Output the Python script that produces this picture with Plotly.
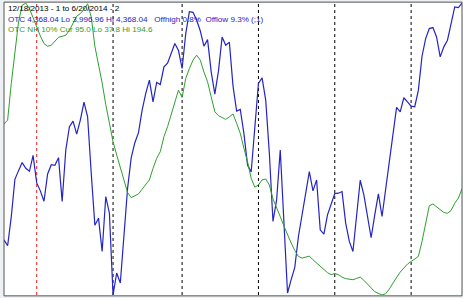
import plotly.graph_objects as go

# Trading-day index 12/18/2013 .. 6/20/2014 (127 sessions)
otc_close = [
    4067.2, 4059.5, 4096.3, 4144.0, 4155.0, 4165.2, 4158.0, 4154.2, 4174.5, 4139.4,
    4129.3, 4116.1, 4150.8, 4162.6, 4161.8, 4171.5, 4115.7, 4181.2, 4210.8, 4218.0,
    4201.5, 4219.3, 4242.1, 4223.5, 4151.6, 4085.7, 4094.6, 4052.3, 4122.1, 4100.9,
    3996.96, 4024.9, 4012.2, 4071.3, 4132.6, 4171.5, 4190.5, 4203.2, 4231.9, 4253.1,
    4270.0, 4242.5, 4267.0, 4264.5, 4286.9, 4291.5, 4304.6, 4316.5, 4307.6, 4284.8,
    4329.2, 4357.1, 4356.2, 4346.5, 4332.5, 4313.1, 4321.5, 4280.6, 4252.2, 4281.4,
    4324.9, 4314.4, 4318.2, 4262.8, 4230.7, 4232.8, 4202.4, 4162.2, 4153.3, 4215.0,
    4265.8, 4273.0, 4244.6, 4177.0, 4090.4, 4117.8, 4181.2, 4090.4, 3999.5, 4016.4,
    4032.0, 4071.3, 4098.8, 4122.1, 4153.8, 4129.3, 4143.2, 4079.8, 4074.3, 4098.8,
    4113.6, 4125.9, 4126.3, 4128.4, 4088.3, 4065.0, 4052.3, 4096.7, 4142.8, 4124.2,
    4096.7, 4069.7, 4098.8, 4125.5, 4096.7, 4130.5, 4162.2, 4198.1, 4235.3, 4229.8,
    4247.6, 4242.5, 4237.0, 4236.2, 4257.3, 4300.4, 4322.8, 4335.5, 4336.8, 4324.9,
    4299.6, 4312.3, 4320.7, 4341.8, 4363.0, 4362.1, 4368.04,
]

nh_10pct = [
    129.6, 131.7, 151.4, 169.2, 184.4, 193.4, 194.6, 191.6, 186.6, 181.7,
    176.9, 172.8, 171.4, 171.9, 174.2, 176.2, 176.7, 177.3, 180.0, 183.9,
    187.5, 188.9, 191.2, 194.2, 187.1, 171.4, 161.7, 151.7, 140.1, 129.1,
    120.1, 113.0, 105.8, 99.6, 92.8, 90.1, 91.0, 92.1, 94.6, 96.9,
    99.6, 105.8, 111.2, 114.8, 122.8, 128.2, 134.4, 140.3, 147.8, 143.9,
    154.1, 159.4, 163.9, 166.6, 163.9, 157.6, 152.3, 144.2, 136.2, 134.1,
    133.2, 132.1, 133.5, 135.0, 130.0, 124.6, 116.6, 109.4, 100.5, 95.7,
    96.9, 99.6, 100.1, 96.9, 89.4, 84.9, 79.9, 74.9, 70.1, 65.7,
    61.7, 58.5, 57.6, 58.2, 58.7, 56.7, 54.9, 53.2, 51.2, 49.8,
    48.7, 49.4, 48.7, 47.4, 46.6, 46.2, 46.0, 46.7, 47.4, 45.7,
    43.9, 41.6, 39.6, 38.9, 37.8, 38.5, 41.0, 44.2, 47.4, 50.1,
    52.3, 54.4, 55.8, 57.1, 58.5, 66.6, 76.4, 85.7, 86.7, 85.3,
    83.5, 82.1, 81.7, 83.2, 87.1, 89.8, 95.0,
]

# Index of first session of each month (Jan .. Jun)
month_starts = [9, 30, 49, 70, 91, 112]
month_colors = ["#e02020", "black", "black", "black", "black", "black"]

title_lines = [
    ("12/18/2013 - 1 to 6/20/2014 - 2", "#000000"),
    ("OTC 4,368.04 Lo 3,996.96 Hi 4,368.04&nbsp;&nbsp;&nbsp;Offhigh 0.8%&nbsp;&nbsp;Offlow 9.3% (;1)", "#2323c8"),
    ("OTC NH 10% Cur 95.0 Lo 37.8 Hi 194.6", "#2ea02e"),
]

idx = list(range(len(otc_close)))

fig = go.Figure()
fig.add_trace(go.Scatter(x=idx, y=nh_10pct, mode="lines", yaxis="y2",
                         line=dict(color="#2ea02e", width=1), hoverinfo="skip"))
fig.add_trace(go.Scatter(x=idx, y=otc_close, mode="lines",
                         line=dict(color="#2424c4", width=1.2), hoverinfo="skip"))

shapes = []
for m, c in zip(month_starts, month_colors):
    shapes.append(dict(type="line", xref="x", yref="paper", x0=m, x1=m, y0=0, y1=1,
                       line=dict(color=c, width=1, dash="dot"), layer="below"))
shapes.append(dict(type="rect", xref="paper", yref="paper", x0=0, x1=1, y0=-0.003, y1=1.003,
                   line=dict(color="#555555", width=1)))

text = "<br>".join('<span style="color:%s">%s</span>' % (col, txt) for txt, col in title_lines)
annotations = [dict(text=text, xref="paper", yref="paper", x=0.006, y=1.0,
                    xanchor="left", yanchor="top", align="left", showarrow=False,
                    borderpad=0,
                    font=dict(family="Liberation Sans, Arial", size=8.1, color="black"))]

fig.update_layout(
    width=463, height=298,
    margin=dict(l=4, r=1, t=3, b=3),
    paper_bgcolor="#eef1f4", plot_bgcolor="white",
    showlegend=False,
    xaxis=dict(range=[0, len(idx) - 1], visible=False, showgrid=False, zeroline=False),
    yaxis=dict(range=[min(otc_close), max(otc_close)], visible=False, showgrid=False, zeroline=False),
    yaxis2=dict(range=[min(nh_10pct), max(nh_10pct)], overlaying="y", visible=False,
                showgrid=False, zeroline=False),
    shapes=shapes, annotations=annotations,
)

fig.write_html("out.html")
